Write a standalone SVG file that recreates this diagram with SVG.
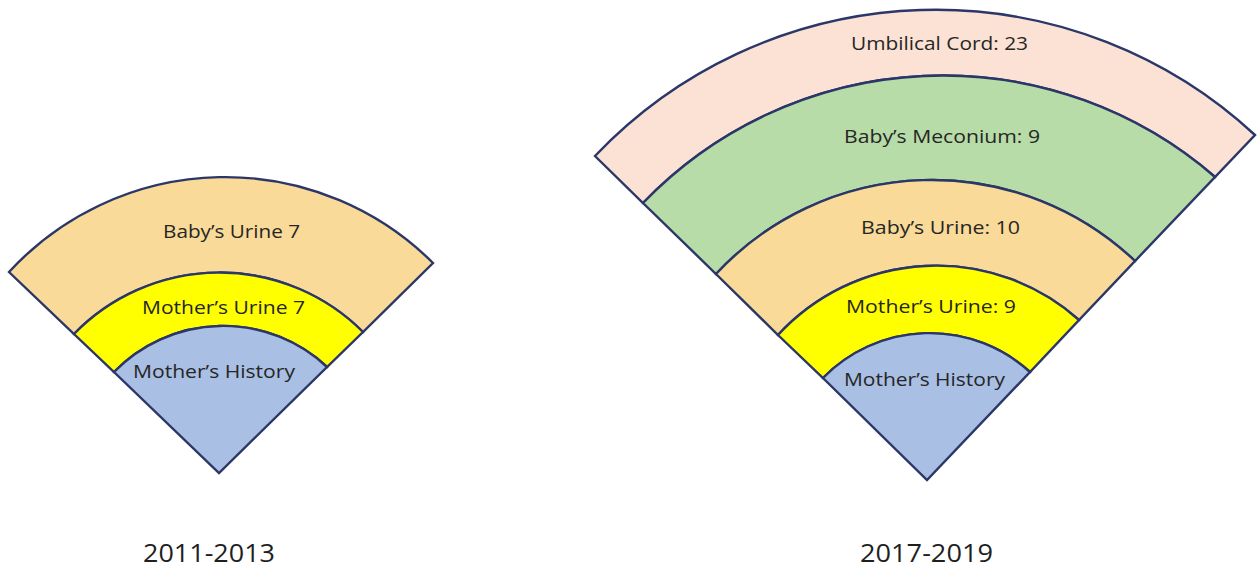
<svg xmlns="http://www.w3.org/2000/svg" width="1257" height="571" viewBox="0 0 1257 571">
<style>
.band{stroke:#2B3768;stroke-width:2.4;stroke-linejoin:miter}
.lbl{font-family:"Open Sans","Liberation Sans",sans-serif;font-size:19px;fill:#262626}
.yr{font-family:"Open Sans","Liberation Sans",sans-serif;font-size:25px;fill:#1f1f1f}
.bu{fill:#F9DA98}.mu{fill:#FFFF00}.mh{fill:#A9BFE3}.mec{fill:#B8DCA8}.uc{fill:#FBE2D4}
</style>
<rect width="1257" height="571" fill="#ffffff"/>
<g id="fan-2011-2013">
  <g id="l-babys-urine">
    <path class="band bu" d="M9,272 A294,294 0 0 1 433,263 L363,332 A203,203 0 0 0 74,334 Z"/>
    <text class="lbl" x="163" y="238" textLength="137" lengthAdjust="spacingAndGlyphs">Baby’s Urine 7</text>
  </g>
  <g id="l-mothers-urine">
    <path class="band mu" d="M74,334 A203,203 0 0 1 363,332 L327,367 A152,152 0 0 0 114,372 Z"/>
    <text class="lbl" x="142" y="314" textLength="163" lengthAdjust="spacingAndGlyphs">Mother’s Urine 7</text>
  </g>
  <g id="l-mothers-history">
    <path class="band mh" d="M114,372 A152,152 0 0 1 327,367 L219,473 Z"/>
    <text class="lbl" x="133" y="378" textLength="162" lengthAdjust="spacingAndGlyphs">Mother’s History</text>
  </g>
  <text id="l-year" class="yr" x="143" y="562" textLength="132" lengthAdjust="spacingAndGlyphs">2011-2013</text>
</g>
<g id="fan-2017-2019">
  <g id="r-umbilical">
    <path class="band uc" d="M595,156 A470,470 0 0 1 1255,135 L1215,177 A416,416 0 0 0 643,203 Z"/>
    <text class="lbl" x="851" y="50" textLength="177" lengthAdjust="spacingAndGlyphs">Umbilical Cord: 23</text>
  </g>
  <g id="r-meconium">
    <path class="band mec" d="M643,203 A416,416 0 0 1 1215,177 L1135,261 A295,295 0 0 0 716,274 Z"/>
    <text class="lbl" x="844" y="143" textLength="196" lengthAdjust="spacingAndGlyphs">Baby’s Meconium: 9</text>
  </g>
  <g id="r-babys-urine">
    <path class="band bu" d="M716,274 A295,295 0 0 1 1135,261 L1079,320 A215,215 0 0 0 778,335 Z"/>
    <text class="lbl" x="861" y="234" textLength="159" lengthAdjust="spacingAndGlyphs">Baby’s Urine: 10</text>
  </g>
  <g id="r-mothers-urine">
    <path class="band mu" d="M778,335 A215,215 0 0 1 1079,320 L1030,372 A149,149 0 0 0 823,378 Z"/>
    <text class="lbl" x="846" y="313" textLength="170" lengthAdjust="spacingAndGlyphs">Mother’s Urine: 9</text>
  </g>
  <g id="r-mothers-history">
    <path class="band mh" d="M823,378 A149,149 0 0 1 1030,372 L927,480 Z"/>
    <text class="lbl" x="844" y="386" textLength="161" lengthAdjust="spacingAndGlyphs">Mother’s History</text>
  </g>
  <text id="r-year" class="yr" x="860" y="562" textLength="133" lengthAdjust="spacingAndGlyphs">2017-2019</text>
</g>
<g id="connectors"/>
</svg>
